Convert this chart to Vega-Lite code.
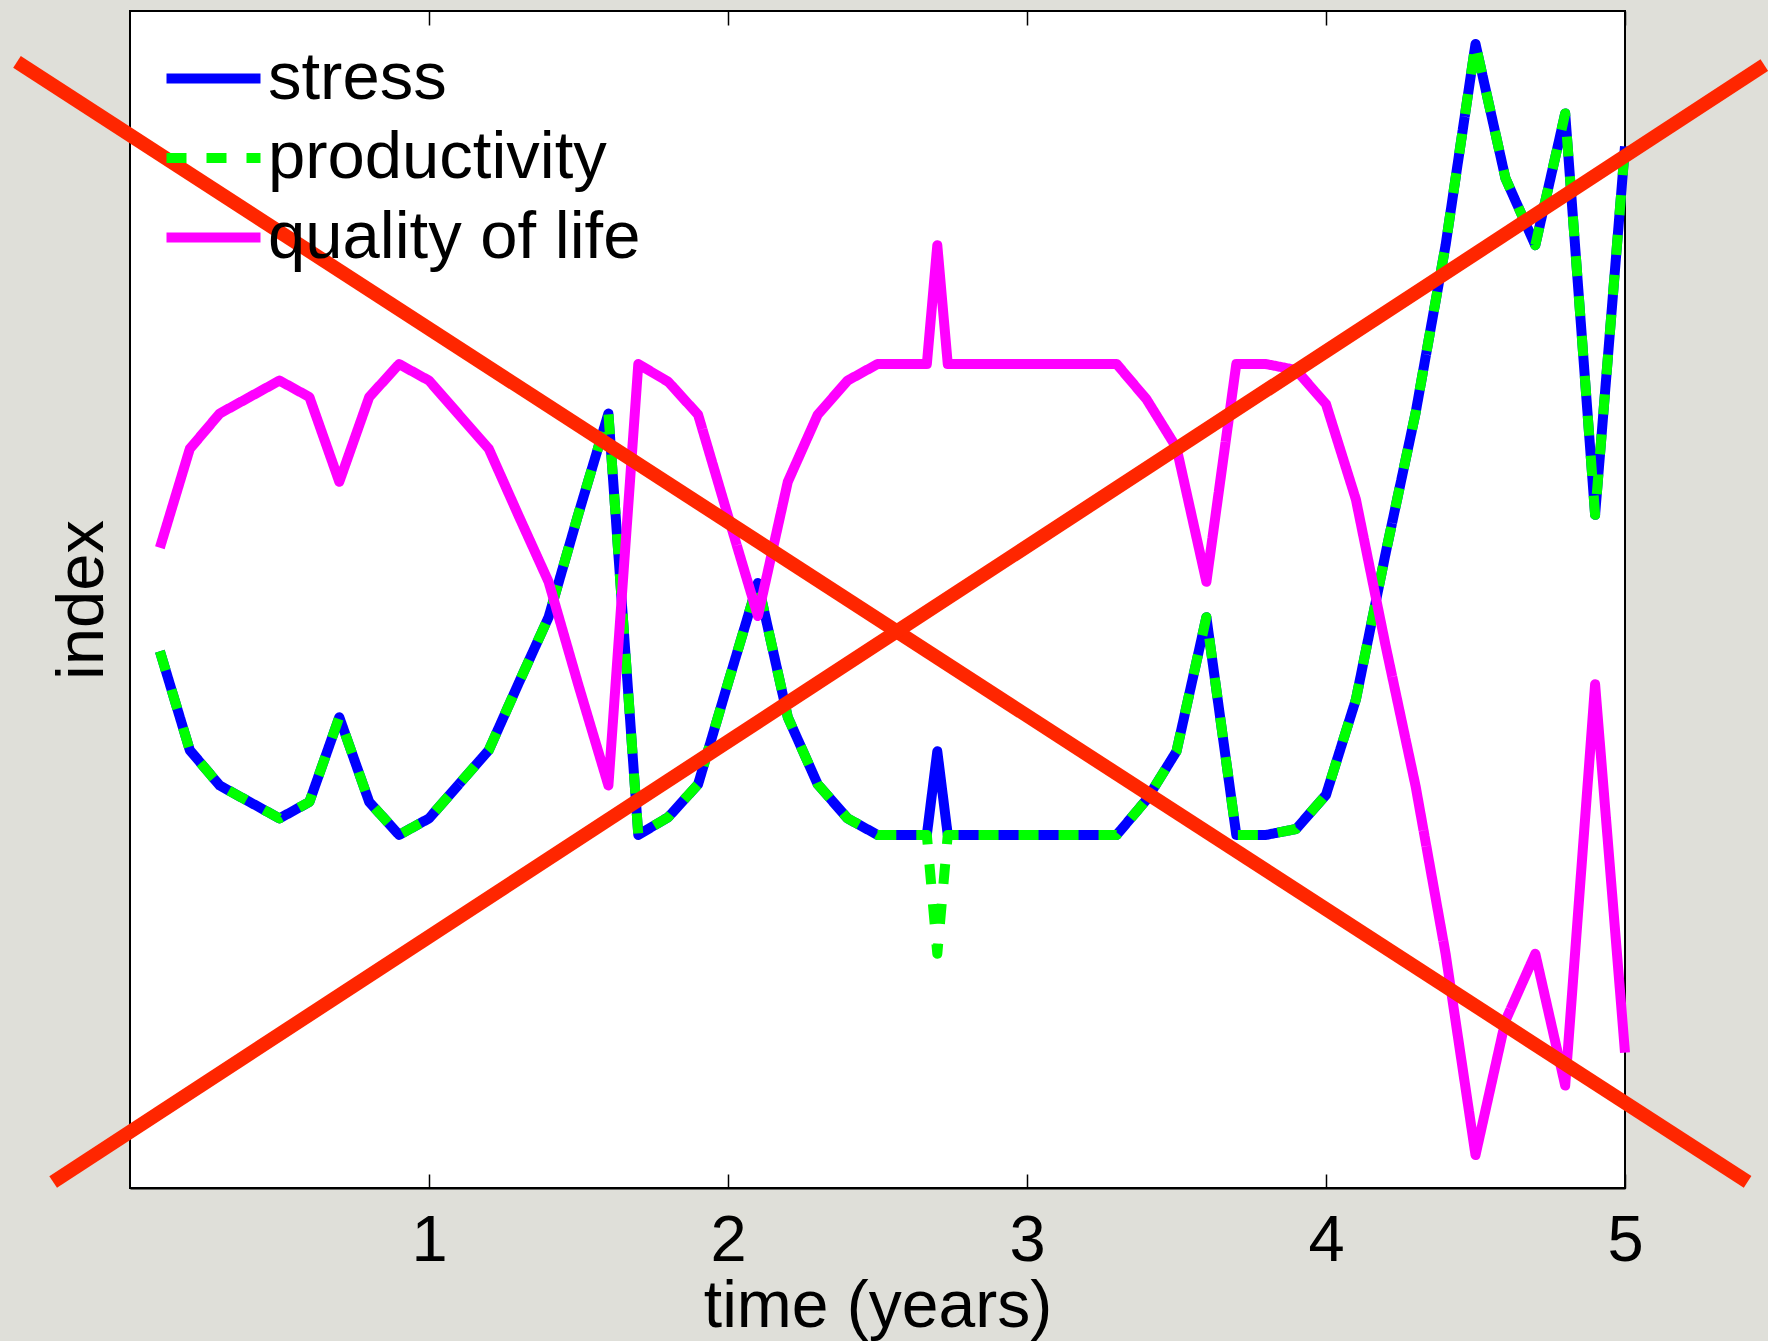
{
  "$schema": "https://vega.github.io/schema/vega-lite/v6.json",
  "width": 1495,
  "height": 1177,
  "autosize": {"type": "none"},
  "padding": {"left": 130, "top": 11, "right": 143, "bottom": 153},
  "background": "#dfdfd9",
  "config": {
    "view": {"fill": "white", "stroke": "black", "strokeWidth": 2},
    "font": "Liberation Sans",
    "legend": {
      "orient": "none",
      "legendX": 47,
      "legendY": 31,
      "padding": 0,
      "symbolType": "M-1.5,0H1.5",
      "symbolSize": 3927,
      "symbolStrokeWidth": 10,
      "symbolFillColor": "transparent",
      "labelFontSize": 67,
      "labelFont": "Liberation Sans",
      "labelColor": "black",
      "labelOffset": 18,
      "rowPadding": 9.5,
      "labelLimit": 0
    }
  },
  "datasets": {
    "lines": [
      {"t": 0.1, "stress": 45.6, "productivity": 45.6, "quality of life": 54.4},
      {"t": 0.2, "stress": 37.2, "productivity": 37.2, "quality of life": 62.8},
      {"t": 0.3, "stress": 34.2, "productivity": 34.2, "quality of life": 65.8},
      {"t": 0.4, "stress": 32.8, "productivity": 32.8, "quality of life": 67.2},
      {"t": 0.5, "stress": 31.4, "productivity": 31.4, "quality of life": 68.6},
      {"t": 0.6, "stress": 32.8, "productivity": 32.8, "quality of life": 67.2},
      {"t": 0.7, "stress": 40.0, "productivity": 40.0, "quality of life": 60.0},
      {"t": 0.8, "stress": 32.8, "productivity": 32.8, "quality of life": 67.2},
      {"t": 0.9, "stress": 30.0, "productivity": 30.0, "quality of life": 70.0},
      {"t": 1.0, "stress": 31.4, "productivity": 31.4, "quality of life": 68.6},
      {"t": 1.1, "stress": 34.3, "productivity": 34.3, "quality of life": 65.7},
      {"t": 1.2, "stress": 37.2, "productivity": 37.2, "quality of life": 62.8},
      {"t": 1.3, "stress": 42.9, "productivity": 42.9, "quality of life": 57.1},
      {"t": 1.4, "stress": 48.5, "productivity": 48.5, "quality of life": 51.5},
      {"t": 1.5, "stress": 57.3, "productivity": 57.3, "quality of life": 42.7},
      {"t": 1.6, "stress": 65.8, "productivity": 65.8, "quality of life": 34.2},
      {"t": 1.7, "stress": 30.0, "productivity": 30.0, "quality of life": 70.0},
      {"t": 1.8, "stress": 31.5, "productivity": 31.5, "quality of life": 68.5},
      {"t": 1.9, "stress": 34.3, "productivity": 34.3, "quality of life": 65.7},
      {"t": 2.0, "stress": 42.9, "productivity": 42.9, "quality of life": 57.1},
      {"t": 2.1, "stress": 51.4, "productivity": 51.4, "quality of life": 48.6},
      {"t": 2.2, "stress": 40.0, "productivity": 40.0, "quality of life": 60.0},
      {"t": 2.3, "stress": 34.3, "productivity": 34.3, "quality of life": 65.7},
      {"t": 2.4, "stress": 31.4, "productivity": 31.4, "quality of life": 68.6},
      {"t": 2.5, "stress": 30.0, "productivity": 30.0, "quality of life": 70.0},
      {"t": 2.6, "stress": 30.0, "productivity": 30.0, "quality of life": 70.0},
      {"t": 2.665, "stress": 30.0, "productivity": 30.0, "quality of life": 70.0},
      {"t": 2.7, "stress": 37.1, "productivity": 19.9, "quality of life": 80.1},
      {"t": 2.735, "stress": 30.0, "productivity": 30.0, "quality of life": 70.0},
      {"t": 2.8, "stress": 30.0, "productivity": 30.0, "quality of life": 70.0},
      {"t": 2.9, "stress": 30.0, "productivity": 30.0, "quality of life": 70.0},
      {"t": 3.0, "stress": 30.0, "productivity": 30.0, "quality of life": 70.0},
      {"t": 3.1, "stress": 30.0, "productivity": 30.0, "quality of life": 70.0},
      {"t": 3.2, "stress": 30.0, "productivity": 30.0, "quality of life": 70.0},
      {"t": 3.3, "stress": 30.0, "productivity": 30.0, "quality of life": 70.0},
      {"t": 3.4, "stress": 33.0, "productivity": 33.0, "quality of life": 67.0},
      {"t": 3.5, "stress": 37.1, "productivity": 37.1, "quality of life": 62.9},
      {"t": 3.6, "stress": 48.5, "productivity": 48.5, "quality of life": 51.5},
      {"t": 3.7, "stress": 30.0, "productivity": 30.0, "quality of life": 70.0},
      {"t": 3.8, "stress": 30.0, "productivity": 30.0, "quality of life": 70.0},
      {"t": 3.9, "stress": 30.5, "productivity": 30.5, "quality of life": 69.5},
      {"t": 4.0, "stress": 33.4, "productivity": 33.4, "quality of life": 66.6},
      {"t": 4.1, "stress": 41.5, "productivity": 41.5, "quality of life": 58.5},
      {"t": 4.2, "stress": 54.0, "productivity": 54.0, "quality of life": 46.0},
      {"t": 4.3, "stress": 65.9, "productivity": 65.9, "quality of life": 34.1},
      {"t": 4.4, "stress": 80.1, "productivity": 80.1, "quality of life": 19.9},
      {"t": 4.5, "stress": 97.2, "productivity": 97.2, "quality of life": 2.8},
      {"t": 4.6, "stress": 85.8, "productivity": 85.8, "quality of life": 14.2},
      {"t": 4.7, "stress": 80.1, "productivity": 80.1, "quality of life": 19.9},
      {"t": 4.8, "stress": 91.3, "productivity": 91.3, "quality of life": 8.7},
      {"t": 4.9, "stress": 57.2, "productivity": 57.2, "quality of life": 42.8},
      {"t": 5.0, "stress": 88.5, "productivity": 88.5, "quality of life": 11.5}
    ],
    "cross": [
      {"t": -0.378, "v": 95.67, "k": "a"},
      {"t": 5.41, "v": 0.51, "k": "a"},
      {"t": -0.257, "v": 0.51, "k": "b"},
      {"t": 5.466, "v": 95.4, "k": "b"}
    ]
  },
  "layer": [
    {
      "data": {"name": "lines"},
      "transform": [
        {"fold": ["stress", "productivity", "quality of life"], "as": ["series", "v"]},
        {"filter": {"field": "series", "equal": "stress"}}
      ],
      "mark": {"type": "line", "strokeWidth": 10, "strokeJoin": "round", "strokeCap": "butt"},
      "encoding": {
        "x": {"field": "t", "type": "quantitative", "scale": {"domain": [0, 5], "nice": false, "zero": false},
          "axis": {"orient": "bottom", "values": [1, 2, 3, 4, 5], "title": "time (years)", "titleFontSize": 66, "titleFontWeight": "normal", "titleColor": "black", "titleFont": "Liberation Sans", "labelFontSize": 65, "labelColor": "black", "labelFont": "Liberation Sans", "labelFlush": false, "labelOverlap": false, "tickSize": -14, "tickColor": "black", "tickWidth": 1.5, "domainColor": "black", "domainWidth": 2, "labelPadding": 35, "titlePadding": 1, "grid": false}},
        "y": {"field": "v", "type": "quantitative", "scale": {"domain": [0, 100], "nice": false, "zero": false},
          "axis": {"title": "index", "titleFontSize": 67, "titleFontWeight": "normal", "titleColor": "black", "titleFont": "Liberation Sans", "ticks": false, "labels": false, "domain": false, "grid": false, "titlePadding": 14}},
        "color": {"field": "series", "type": "nominal", "scale": {"domain": ["stress", "productivity", "quality of life"], "range": ["#0000ff", "#00ff00", "#ff00ff"]}, "legend": {"title": null}},
        "strokeDash": {"field": "series", "type": "nominal", "scale": {"domain": ["stress", "productivity", "quality of life"], "range": [[1, 0], [20, 20], [1, 0]]}, "legend": {"title": null}}
      }
    },
    {
      "data": {"name": "lines"},
      "transform": [
        {"fold": ["stress", "productivity", "quality of life"], "as": ["series", "v"]},
        {"filter": {"field": "series", "equal": "productivity"}}
      ],
      "mark": {"type": "line", "strokeWidth": 10, "strokeJoin": "round", "strokeCap": "butt"},
      "encoding": {
        "x": {"field": "t", "type": "quantitative", "axis": null},
        "y": {"field": "v", "type": "quantitative"},
        "color": {"field": "series", "type": "nominal", "legend": {"title": null}},
        "strokeDash": {"field": "series", "type": "nominal", "legend": {"title": null}}
      }
    },
    {
      "data": {"name": "lines"},
      "transform": [
        {"fold": ["stress", "productivity", "quality of life"], "as": ["series", "v"]},
        {"filter": {"field": "series", "equal": "quality of life"}}
      ],
      "mark": {"type": "line", "strokeWidth": 10, "strokeJoin": "round", "strokeCap": "butt"},
      "encoding": {
        "x": {"field": "t", "type": "quantitative", "axis": null},
        "y": {"field": "v", "type": "quantitative"},
        "color": {"field": "series", "type": "nominal", "legend": {"title": null}},
        "strokeDash": {"field": "series", "type": "nominal", "legend": {"title": null}}
      }
    },
    {
      "data": {"name": "cross"},
      "mark": {"type": "line", "strokeWidth": 14, "strokeCap": "butt", "color": "#ff2600", "clip": false},
      "encoding": {
        "x": {"field": "t", "type": "quantitative",
          "axis": {"orient": "top", "values": [1, 2, 3, 4, 5], "labels": false, "title": null, "domain": false, "tickSize": -14, "tickColor": "black", "tickWidth": 1.5, "grid": false}},
        "y": {"field": "v", "type": "quantitative"},
        "detail": {"field": "k", "type": "nominal"}
      }
    }
  ],
  "resolve": {"axis": {"x": "independent"}}
}
